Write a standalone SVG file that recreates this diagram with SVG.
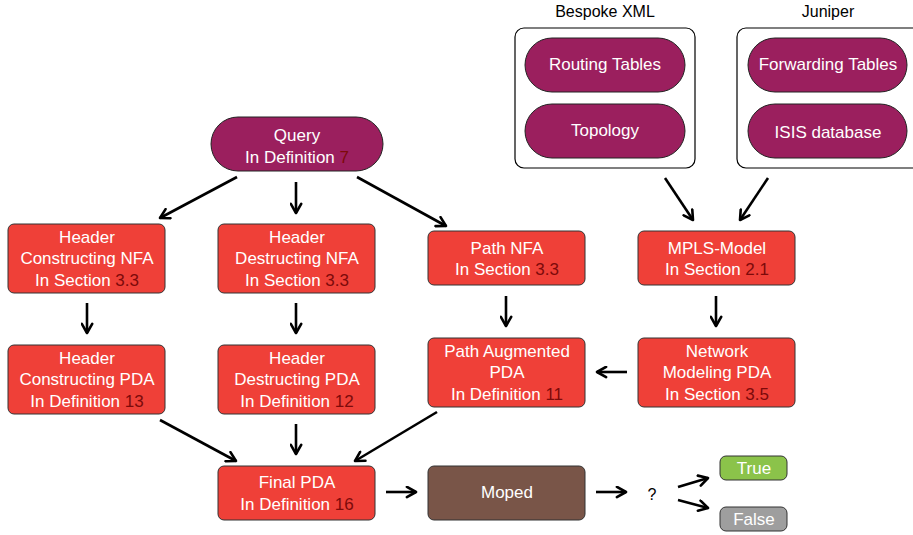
<svg xmlns="http://www.w3.org/2000/svg" width="913" height="535" viewBox="0 0 913 535">
<defs>
<marker id="ah" viewBox="0 0 10 10" refX="8.5" refY="5" markerWidth="13" markerHeight="13" markerUnits="userSpaceOnUse" orient="auto">
<path d="M1.5,1 L8.5,5 L1.5,9" fill="none" stroke="#000" stroke-width="2" stroke-linecap="round" stroke-linejoin="round"/>
</marker>
<style>
text{font-family:"Liberation Sans","DejaVu Sans",sans-serif;font-size:17px;text-anchor:middle}
.w{fill:#fff}
.n{fill:#7d0a0a}
.red{fill:#ef4038;stroke:#333;stroke-width:1}
.pur{fill:#9b1f5e;stroke:#222;stroke-width:1}
.grp{fill:#fff;stroke:#000;stroke-width:1.2}
.lab{fill:#000;font-size:16px}
.c line{stroke:#000;stroke-width:2.6;marker-end:url(#ah)}
</style>
</defs>
<rect width="913" height="535" fill="#fff"/>

<g id="bespoke">
<rect class="grp" x="515" y="28" width="180" height="140" rx="9"/>
<text class="lab" x="605" y="17">Bespoke XML</text>
</g>
<g id="juniper">
<rect class="grp" x="737" y="28" width="185" height="140" rx="9"/>
<text class="lab" x="828" y="17">Juniper</text>
</g>
<g id="routing"><rect class="pur" x="525" y="38" width="160" height="54" rx="27"/><text class="w" x="605" y="70">Routing Tables</text></g>
<g id="topology"><rect class="pur" x="525" y="104" width="160" height="54" rx="27"/><text class="w" x="605" y="136">Topology</text></g>
<g id="forwarding"><rect class="pur" x="748" y="38" width="159" height="54" rx="27"/><text class="w" x="828" y="70">Forwarding Tables</text></g>
<g id="isis"><rect class="pur" x="748" y="104" width="159" height="54" rx="27"/><text class="w" x="828" y="138">ISIS database</text></g>

<g id="query"><rect class="pur" x="211" y="117" width="172" height="54" rx="27"/>
<text class="w" x="297" y="141">Query</text>
<text class="w" x="297" y="163">In Definition <tspan class="n">7</tspan></text></g>

<g id="hcnfa"><rect class="red" x="8" y="224" width="157" height="69" rx="6"/>
<text class="w" x="87" y="243">Header</text><text class="w" x="87" y="264">Constructing NFA</text><text class="w" x="87" y="286">In Section <tspan class="n">3.3</tspan></text></g>
<g id="hdnfa"><rect class="red" x="218" y="224" width="157" height="69" rx="6"/>
<text class="w" x="297" y="243">Header</text><text class="w" x="297" y="264">Destructing NFA</text><text class="w" x="297" y="286">In Section <tspan class="n">3.3</tspan></text></g>
<g id="pathnfa"><rect class="red" x="428" y="231" width="157" height="54" rx="6"/>
<text class="w" x="507" y="254">Path NFA</text><text class="w" x="507" y="275">In Section <tspan class="n">3.3</tspan></text></g>
<g id="mpls"><rect class="red" x="638" y="231" width="157" height="54" rx="6"/>
<text class="w" x="717" y="254">MPLS-Model</text><text class="w" x="717" y="275">In Section <tspan class="n">2.1</tspan></text></g>

<g id="hcpda"><rect class="red" x="8" y="345" width="157" height="69" rx="6"/>
<text class="w" x="87" y="364">Header</text><text class="w" x="87" y="385">Constructing PDA</text><text class="w" x="87" y="407">In Definition <tspan class="n">13</tspan></text></g>
<g id="hdpda"><rect class="red" x="218" y="345" width="157" height="69" rx="6"/>
<text class="w" x="297" y="364">Header</text><text class="w" x="297" y="385">Destructing PDA</text><text class="w" x="297" y="407">In Definition <tspan class="n">12</tspan></text></g>
<g id="papda"><rect class="red" x="428" y="338" width="157" height="69" rx="6"/>
<text class="w" x="507" y="357">Path Augmented</text><text class="w" x="507" y="378">PDA</text><text class="w" x="507" y="400">In Definition <tspan class="n">11</tspan></text></g>
<g id="nmpda"><rect class="red" x="638" y="338" width="157" height="69" rx="6"/>
<text class="w" x="717" y="357">Network</text><text class="w" x="717" y="378">Modeling PDA</text><text class="w" x="717" y="400">In Section <tspan class="n">3.5</tspan></text></g>

<g id="final"><rect class="red" x="218" y="466" width="157" height="54" rx="6"/>
<text class="w" x="297" y="488">Final PDA</text><text class="w" x="297" y="510">In Definition <tspan class="n">16</tspan></text></g>
<g id="moped"><rect x="428" y="466" width="157" height="54" rx="6" fill="#795548" stroke="#333"/>
<text class="w" x="507" y="498">Moped</text></g>
<g id="q"><text x="652" y="500" style="font-size:16px;fill:#000">?</text></g>
<g id="true"><rect x="720" y="456" width="67" height="24" rx="6" fill="#8bc34a" stroke="#333"/><text class="w" x="754" y="474">True</text></g>
<g id="false"><rect x="720" y="507" width="67" height="24" rx="6" fill="#9e9e9e" stroke="#333"/><text class="w" x="754" y="525">False</text></g>

<g id="connectors" class="c">
<line x1="237" y1="177" x2="160" y2="218"/>
<line x1="296" y1="182" x2="296" y2="213"/>
<line x1="357" y1="177" x2="446" y2="226"/>
<line x1="665" y1="178" x2="693" y2="220"/>
<line x1="768" y1="178" x2="740" y2="220"/>
<line x1="87" y1="303" x2="87" y2="333"/>
<line x1="296" y1="303" x2="296" y2="333"/>
<line x1="506" y1="296" x2="506" y2="326"/>
<line x1="716" y1="296" x2="716" y2="326"/>
<line x1="627" y1="372" x2="597" y2="372"/>
<line x1="160" y1="420" x2="236" y2="461"/>
<line x1="296" y1="424" x2="296" y2="454"/>
<line x1="437" y1="412" x2="355" y2="461"/>
<line x1="386" y1="492" x2="416" y2="492"/>
<line x1="596" y1="492" x2="626" y2="492"/>
<line x1="678" y1="487" x2="708" y2="478"/>
<line x1="678" y1="500" x2="708" y2="508"/>
</g>
</svg>
